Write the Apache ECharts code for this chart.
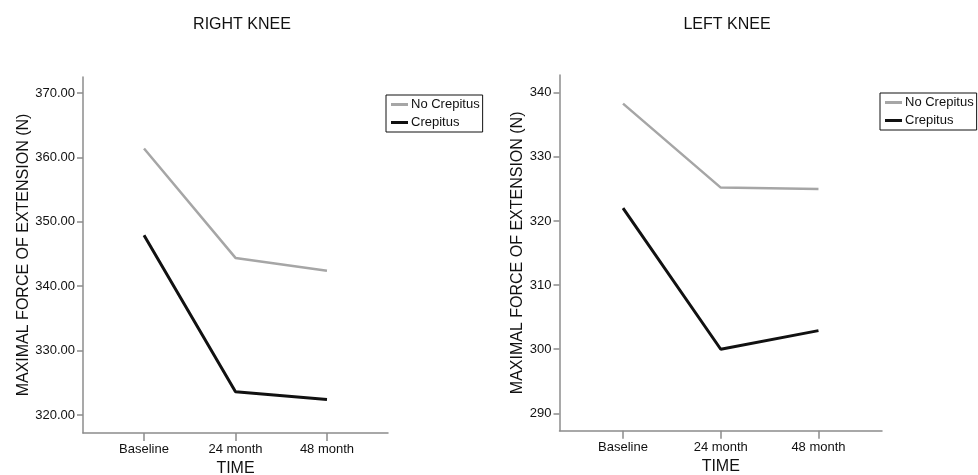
<!DOCTYPE html>
<html><head><meta charset="utf-8">
<script src="https://cdn.jsdelivr.net/npm/echarts@6/dist/echarts.min.js"></script>
<style>html,body{margin:0;padding:0;background:#fff}#c{width:978px;height:475px}</style>
</head><body><div id="c"></div>
<script>
var categories = ['Baseline', '24 month', '48 month'];
var seriesNames = ['No Crepitus', 'Crepitus'];
var rightNoCrepitus = [361.4, 344.4, 342.4];
var rightCrepitus = [347.9, 323.6, 322.4];
var leftNoCrepitus = [338.3, 325.2, 325.0];
var leftCrepitus = [322.0, 300.0, 302.9];
var rightTicks = [320, 330, 340, 350, 360, 370];
var leftTicks = [290, 300, 310, 320, 330, 340];
var titles = ['RIGHT KNEE', 'LEFT KNEE'];
var yName = 'MAXIMAL FORCE OF EXTENSION (N)';
var xName = 'TIME';

var FONT = '"Liberation Sans", Arial, Helvetica, sans-serif';
var AX = '#8c8c8c';
var GRAY = '#a6a6a6';
var BLACK = '#111111';

function pts(arr){ return arr.map(function(v,i){ return [i, v]; }); }

function xAxis(idx, min, max){
  return {
    type: 'value', gridIndex: idx, min: min, max: max,
    name: xName, nameLocation: 'middle', nameGap: 27,
    nameTextStyle: {fontFamily: FONT, fontSize: 16, color: '#111'},
    axisLine: {show: true, onZero: false, lineStyle: {color: AX, width: 1.5}},
    axisTick: {show: true, customValues: [0,1,2], length: 8, lineStyle: {color: AX, width: 1.5}},
    axisLabel: {customValues: [0,1,2], margin: 10, fontFamily: FONT, fontSize: 13, color: '#111',
      formatter: function(v){ return categories[Math.round(v)]; }},
    splitLine: {show: false}
  };
}
function yAxis(idx, min, max, ticks, dec, gap){
  return {
    type: 'value', gridIndex: idx, min: min, max: max,
    name: yName, nameLocation: 'middle', nameGap: gap, nameRotate: 90,
    nameTextStyle: {fontFamily: FONT, fontSize: 16, color: '#111'},
    axisLine: {show: true, onZero: false, lineStyle: {color: AX, width: 1.5}},
    axisTick: {show: true, customValues: ticks, length: 6, lineStyle: {color: AX, width: 1.5}},
    axisLabel: {customValues: ticks, margin: 8, fontFamily: FONT, fontSize: 13, color: '#111',
      formatter: function(v){ return dec ? v.toFixed(2) : String(v); }},
    splitLine: {show: false}
  };
}
function legend(left, top){
  return {
    left: left, top: top, orient: 'vertical',
    borderColor: '#111', borderWidth: 1, padding: [3, 3, 3, 5],
    itemWidth: 17, itemHeight: 3, itemGap: 5,
    textStyle: {fontFamily: FONT, fontSize: 13, color: '#111', padding: [0,0,0,-2]},
    data: [
      {name: seriesNames[0], icon: 'rect'},
      {name: seriesNames[1], icon: 'rect'}
    ]
  };
}
function line(name, idx, data, color, width){
  return {
    type: 'line', name: name, xAxisIndex: idx, yAxisIndex: idx,
    data: pts(data), symbol: 'none', silent: true, animation: false,
    itemStyle: {color: color},
    lineStyle: {color: color, width: width}
  };
}

var chart = echarts.init(document.getElementById('c'), null, {renderer: 'canvas'});
chart.setOption({
  animation: false,
  backgroundColor: '#fff',
  title: [
    {text: titles[0], left: 237, top: 12, textAlign: 'center',
     textStyle: {fontFamily: FONT, fontSize: 16, fontWeight: 'normal', color: '#111'}},
    {text: titles[1], left: 722, top: 12, textAlign: 'center',
     textStyle: {fontFamily: FONT, fontSize: 16, fontWeight: 'normal', color: '#111'}}
  ],
  legend: [legend(386, 95), legend(880, 93)],
  grid: [
    {left: 83, right: 590, top: 77, bottom: 42, outerBoundsMode: 'none', containLabel: false},
    {left: 559.5, right: 96, top: 75, bottom: 44.3, outerBoundsMode: 'none', containLabel: false}
  ],
  xAxis: [xAxis(0, -0.667, 2.667), xAxis(1, -0.65, 2.65)],
  yAxis: [yAxis(0, 317.2, 372.5, rightTicks, true, 51), yAxis(1, 287.3, 342.76, leftTicks, false, 29)],
  series: [
    line(seriesNames[0], 0, rightNoCrepitus, GRAY, 2.5),
    line(seriesNames[1], 0, rightCrepitus, BLACK, 3),
    line(seriesNames[0], 1, leftNoCrepitus, GRAY, 2.5),
    line(seriesNames[1], 1, leftCrepitus, BLACK, 3)
  ]
});
</script></body></html>
